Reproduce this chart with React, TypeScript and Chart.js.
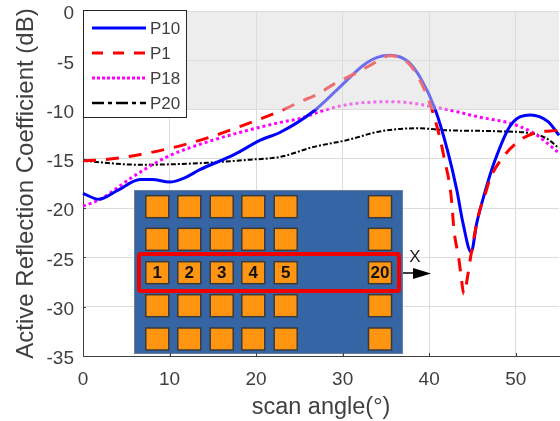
import React, { useEffect, useRef } from "react";
import { Chart, registerables } from "chart.js";

Chart.register(...registerables);

const p10X = [0, 1.8, 4, 6.6, 8, 10, 11.8, 13.5, 17.4, 20.5, 22.8, 26.6, 29.7, 32.4, 34, 35.5, 37.5, 39, 40.7, 42.1, 43.2, 43.9, 44.85, 45.5, 46.5, 47.5, 49.4, 51.7, 53.7, 55];
const p10Y = [-18.5, -19.1, -18.2, -17.1, -17.1, -17.35, -16.9, -16.1, -14.6, -13.1, -12.3, -10.2, -7.7, -5.5, -4.7, -4.5, -5.1, -6.8, -10, -14.1, -18.2, -21.5, -24.45, -21.5, -18.2, -15.4, -11.6, -10.55, -11.2, -12.6];
const p1X = [0, 2.3, 5, 9.7, 14.3, 18.5, 22.8, 25.1, 27.2, 29.2, 31.3, 33.2, 35.5, 37.5, 38.8, 39.8, 40.5, 41.3, 41.7, 42.5, 42.9, 43.4, 43.7, 44, 44.5, 44.8, 45.7, 46.5, 47, 48.3, 50.2, 52.1, 54.9];
const p1Y = [-15.2, -15.1, -14.8, -14, -12.9, -11.6, -10.15, -9.2, -8.4, -7.3, -6.4, -5.5, -4.55, -5.2, -6.8, -8.7, -10.5, -13.1, -14.8, -18.5, -22.5, -24.95, -27, -28.7, -26.6, -24.9, -20.7, -18.5, -17.1, -15.1, -13.3, -12.4, -12.1];
const p18X = [0, 2, 5.8, 9.7, 14.3, 18.2, 22.8, 25.1, 27.4, 30.5, 35.9, 41, 46, 49.4, 52.1, 55];
const p18Y = [-19.8, -19.1, -16.8, -14.8, -13.3, -12.3, -11.3, -10.9, -10.2, -9.5, -9.2, -9.8, -10.8, -11.4, -12.4, -14.4];
const p20X = [0, 6.6, 14.3, 19, 22.8, 26.6, 30.5, 34.4, 38.6, 42.1, 47.9, 51.7, 53.5, 55];
const p20Y = [-15.2, -15.6, -15.4, -15.1, -14.8, -13.8, -13.1, -12.2, -11.9, -12.1, -12.2, -12.4, -12.9, -13.9];
const seriesNames = ["P10", "P1", "P18", "P20"];
const elementLabels = ["1", "2", "3", "4", "5", "20"];

const xy = (xs: number[], ys: number[]) => xs.map((x, i) => ({ x, y: ys[i] }));

const TEXT = "#404040";
const FONT = "'Liberation Sans', Arial, sans-serif";

const bandPlugin = {
  id: "band",
  afterDatasetsDraw(chart: any) {
    const { ctx, chartArea, scales } = chart;
    const top = scales.y.getPixelForValue(0);
    const bot = scales.y.getPixelForValue(-10);
    ctx.save();
    ctx.fillStyle = "rgba(220,220,220,0.5)";
    ctx.fillRect(chartArea.left, top, chartArea.right - chartArea.left, bot - top);
    ctx.restore();
  },
};

const insetPlugin = {
  id: "inset",
  afterDatasetsDraw(chart: any) {
    const { ctx } = chart;
    const cols = [157.3, 189.3, 221.7, 253.3, 285.7, 380];
    const rows = [206.7, 239.3, 272.7, 305.7, 339];
    ctx.save();
    ctx.fillStyle = "#3565a5";
    ctx.strokeStyle = "#6d7f96";
    ctx.lineWidth = 1;
    ctx.fillRect(134, 190, 269, 164);
    ctx.strokeRect(134.5, 190.5, 268, 163);
    rows.forEach((cy) => {
      cols.forEach((cx) => {
        ctx.fillStyle = "#ff9510";
        ctx.strokeStyle = "#3a3a3a";
        ctx.lineWidth = 1.5;
        ctx.fillRect(cx - 11.5, cy - 11, 23, 22);
        ctx.strokeRect(cx - 11.5, cy - 11, 23, 22);
      });
    });
    ctx.fillStyle = "#111";
    ctx.textAlign = "center";
    ctx.textBaseline = "middle";
    ctx.font = `bold 17px ${FONT}`;
    cols.forEach((cx, i) => ctx.fillText(elementLabels[i], cx, rows[2] + 1));
    ctx.strokeStyle = "#f00000";
    ctx.lineWidth = 4;
    ctx.beginPath();
    ctx.roundRect(139, 254, 260, 37, 2);
    ctx.stroke();
    ctx.strokeStyle = "#000";
    ctx.lineWidth = 1.5;
    ctx.beginPath();
    ctx.moveTo(403, 273);
    ctx.lineTo(416, 273);
    ctx.stroke();
    ctx.fillStyle = "#000";
    ctx.beginPath();
    ctx.moveTo(431, 273.5);
    ctx.lineTo(413, 268);
    ctx.lineTo(413, 279);
    ctx.closePath();
    ctx.fill();
    ctx.fillStyle = "#222";
    ctx.font = `17px ${FONT}`;
    ctx.fillText("X", 415, 257);
    ctx.restore();
  },
};

const framePlugin = {
  id: "frame",
  afterDraw(chart: any) {
    const { ctx, chartArea, scales } = chart;
    ctx.save();
    ctx.strokeStyle = "#404040";
    ctx.lineWidth = 1;
    scales.x.ticks.forEach((t: any) => {
      const px = Math.round(scales.x.getPixelForValue(t.value)) + 0.5;
      ctx.beginPath();
      ctx.moveTo(px, chartArea.bottom);
      ctx.lineTo(px, chartArea.bottom - 3);
      ctx.stroke();
    });
    scales.y.ticks.forEach((t: any) => {
      const py = Math.round(scales.y.getPixelForValue(t.value)) + 0.5;
      ctx.beginPath();
      ctx.moveTo(chartArea.left, py);
      ctx.lineTo(chartArea.left + 3, py);
      ctx.stroke();
    });
    ctx.fillStyle = "#fff";
    const lx = chartArea.left;
    const ly = chartArea.top - 1;
    const lw = 103;
    const lh = 107;
    ctx.fillRect(lx, ly, lw, lh);
    ctx.strokeStyle = "#262626";
    ctx.lineWidth = 1;
    ctx.strokeRect(lx + 0.5, ly + 0.5, lw, lh);
    ctx.textAlign = "left";
    ctx.textBaseline = "middle";
    ctx.font = `17px ${FONT}`;
    chart.data.datasets.forEach((d: any, i: number) => {
      const y = ly + 18 + i * 25;
      ctx.strokeStyle = d.borderColor;
      ctx.lineWidth = d.legendWidth;
      ctx.setLineDash(d.legendDash);
      ctx.beginPath();
      ctx.moveTo(lx + 9, y);
      ctx.lineTo(lx + 63, y);
      ctx.stroke();
      ctx.setLineDash([]);
      ctx.fillStyle = TEXT;
      ctx.fillText(d.label, lx + 67, y + 1);
    });
    ctx.restore();
  },
};

export default function App() {
  const ref = useRef<HTMLCanvasElement>(null);
  useEffect(() => {
    if (!ref.current) return;
    const common = { fill: false, pointRadius: 0, cubicInterpolationMode: "monotone", clip: false };
    const chart = new Chart(ref.current, {
      type: "line",
      data: {
        datasets: [
          { ...common, label: seriesNames[0], data: xy(p10X, p10Y), borderColor: "#0000ff", borderWidth: 3, borderDash: [], legendDash: [], legendWidth: 3, order: 2 },
          { ...common, label: seriesNames[1], data: xy(p1X, p1Y), borderColor: "#ff0000", borderWidth: 3, borderDash: [13, 10], legendDash: [11, 10], legendWidth: 3, order: 1 },
          { ...common, label: seriesNames[2], data: xy(p18X, p18Y), borderColor: "#ff00ff", borderWidth: 3, borderDash: [3, 3], legendDash: [3, 2], legendWidth: 3, order: 3 },
          { ...common, label: seriesNames[3], data: xy(p20X, p20Y), borderColor: "#000000", borderWidth: 2, borderDash: [5, 2, 2, 2], legendDash: [12, 4, 4, 4], legendWidth: 2.5, order: 4 },
        ] as any,
      },
      options: {
        responsive: false,
        animation: false,
        layout: { padding: { top: 11, right: 1, left: 0, bottom: 0 } },
        plugins: { legend: { display: false }, tooltip: { enabled: false } },
        scales: {
          x: {
            type: "linear",
            min: 0,
            max: 55,
            afterFit: (s: any) => { s.height = 65; s.paddingLeft = 0; s.paddingRight = 0; },
            grid: { color: "#dcdcdc", lineWidth: 1, drawTicks: false },
            border: { color: "#404040", width: 1 },
            ticks: { stepSize: 10, includeBounds: false, maxRotation: 0, color: TEXT, padding: 12, font: { family: FONT, size: 19 } },
            title: { display: true, text: "scan angle(°)", color: TEXT, padding: { top: 0, bottom: -1 }, font: { family: FONT, size: 23.5 } },
          },
          y: {
            type: "linear",
            min: -35,
            max: 0,
            afterFit: (s: any) => { s.width = 83; s.paddingTop = 0; s.paddingBottom = 0; },
            grid: { color: "#dcdcdc", lineWidth: 1, drawTicks: false },
            border: { color: "#404040", width: 1 },
            ticks: { stepSize: 5, labelOffset: 3, color: TEXT, padding: 9, font: { family: FONT, size: 19 } },
            title: { display: true, text: "Active Reflection Coefficient (dB)", color: TEXT, padding: { top: 12, bottom: 0 }, font: { family: FONT, size: 24 } },
          },
        },
      },
      plugins: [bandPlugin, insetPlugin, framePlugin],
    } as any);
    return () => chart.destroy();
  }, []);
  return (
    <canvas
      ref={ref}
      width={560}
      height={421}
      style={{ position: "absolute", left: 0, top: 0, width: 560, height: 421 }}
    />
  );
}
